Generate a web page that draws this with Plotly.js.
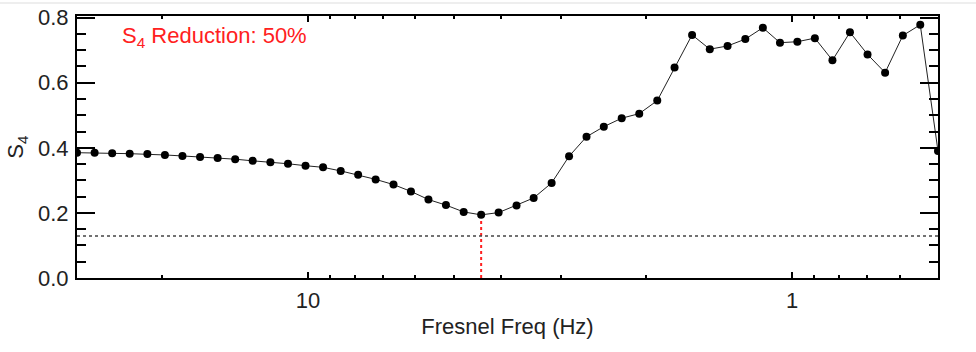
<!DOCTYPE html>
<html>
<head>
<meta charset="utf-8">
<script src="https://cdn.plot.ly/plotly-3.0.1.min.js"></script>
<style>html,body{margin:0;padding:0;background:#fff;}#chart{width:976px;height:352px;}</style>
</head>
<body>
<div id="chart"></div>
<script>
// Fresnel frequency (Hz) of each sample
const freq = [30.0, 27.59, 25.38, 23.35, 21.47, 19.75, 18.17, 16.71, 15.37, 14.14,
  13.01, 11.96, 11.00, 10.12, 9.31, 8.56, 7.88, 7.25, 6.66, 6.13,
  5.64, 5.19, 4.77, 4.39, 4.04, 3.71, 3.42, 3.14, 2.89, 2.66,
  2.45, 2.25, 2.07, 1.90, 1.75, 1.61, 1.48, 1.36, 1.25, 1.15,
  1.06, 0.976, 0.898, 0.826, 0.760, 0.699, 0.643, 0.591, 0.544, 0.500];
// S4 value of each sample
const s4 = [0.385, 0.385, 0.383, 0.382, 0.381, 0.378, 0.375, 0.372, 0.369, 0.365,
  0.360, 0.356, 0.351, 0.345, 0.340, 0.329, 0.317, 0.303, 0.287, 0.266,
  0.241, 0.224, 0.203, 0.194, 0.201, 0.223, 0.246, 0.292, 0.374, 0.434,
  0.465, 0.491, 0.505, 0.545, 0.647, 0.747, 0.703, 0.713, 0.734, 0.769,
  0.723, 0.726, 0.737, 0.669, 0.755, 0.687, 0.631, 0.745, 0.778, 0.390];
const noiseLevel = 0.129;
const xTickVals = [10, 1];
const xTickText = ['10', '1'];
const xMinorVals = [20, 9, 8, 7, 6, 5, 4, 3, 2, 0.9, 0.8, 0.7, 0.6];
const xRange = [30, 0.5];
const yRange = [0, 0.805];
const reductionLabel = 'S<sub>4</sub> Reduction: 50%';

// location of the minimum S4 (excluding the clipped end point)
let iMin = 0;
for (let i = 0; i < s4.length - 1; i++) if (s4[i] < s4[iMin]) iMin = i;

const font = {family: 'Liberation Sans, Arial, Helvetica, sans-serif', size: 22, color: '#222'};

const traces = [
  {
    x: [freq[iMin], freq[iMin]], y: [0, s4[iMin]],
    mode: 'lines', line: {color: '#ff2020', width: 2, dash: 'dot'},
    hoverinfo: 'skip', showlegend: false
  },
  {
    x: freq, y: s4, mode: 'lines+markers',
    line: {color: '#222', width: 1},
    marker: {color: '#000', size: 8},
    showlegend: false, cliponaxis: true
  }
];

const layout = {
  width: 976, height: 352,
  margin: {l: 77, r: 38, t: 16, b: 74},
  paper_bgcolor: '#fff', plot_bgcolor: '#fff',
  font: font,
  showlegend: false,
  xaxis: {
    type: 'log', autorange: false,
    range: [Math.log10(xRange[0]), Math.log10(xRange[1])],
    tickmode: 'array', tickvals: xTickVals, ticktext: xTickText,
    ticks: 'inside', ticklen: 6, tickwidth: 2, tickcolor: '#000',
    minor: {tickmode: 'array', tickvals: xMinorVals, ticks: 'inside', ticklen: 3, tickwidth: 2, tickcolor: '#000', showgrid: false},
    showline: true, linecolor: '#000', linewidth: 2, mirror: 'ticks',
    showgrid: false, zeroline: false,
    tickfont: font, ticklabelstandoff: 2,
    title: {text: 'Fresnel Freq (Hz)', font: font, standoff: 6}
  },
  yaxis: {
    range: yRange, autorange: false,
    tickmode: 'linear', tick0: 0, dtick: 0.2, tickformat: '.1f',
    ticks: 'inside', ticklen: 18, tickwidth: 2, tickcolor: '#000',
    minor: {dtick: 0.05, tick0: 0, ticks: 'inside', ticklen: 9, tickwidth: 2, tickcolor: '#000', showgrid: false},
    showline: true, linecolor: '#000', linewidth: 2, mirror: 'ticks',
    showgrid: false, zeroline: false,
    tickfont: font, ticklabelstandoff: 2,
    title: {text: 'S<sub>4</sub>', font: font, standoff: 8}
  },
  shapes: [
    {type: 'line', xref: 'paper', yref: 'y', x0: 0, x1: 1, y0: noiseLevel, y1: noiseLevel,
     line: {color: '#444', width: 1.3, dash: 'dot'}},
    {type: 'line', xref: 'paper', yref: 'paper', x0: -77/861, x1: 899/861, y0: 275/262, y1: 275/262,
     line: {color: '#dddddd', width: 1}}
  ],
  annotations: [
    {xref: 'paper', yref: 'paper', x: 0.05, y: 0.92, xanchor: 'left', yanchor: 'middle',
     text: reductionLabel, showarrow: false, font: {family: font.family, size: 22, color: '#ff2020'}}
  ]
};

Plotly.newPlot('chart', traces, layout, {displayModeBar: false, staticPlot: true});
</script>
</body>
</html>
